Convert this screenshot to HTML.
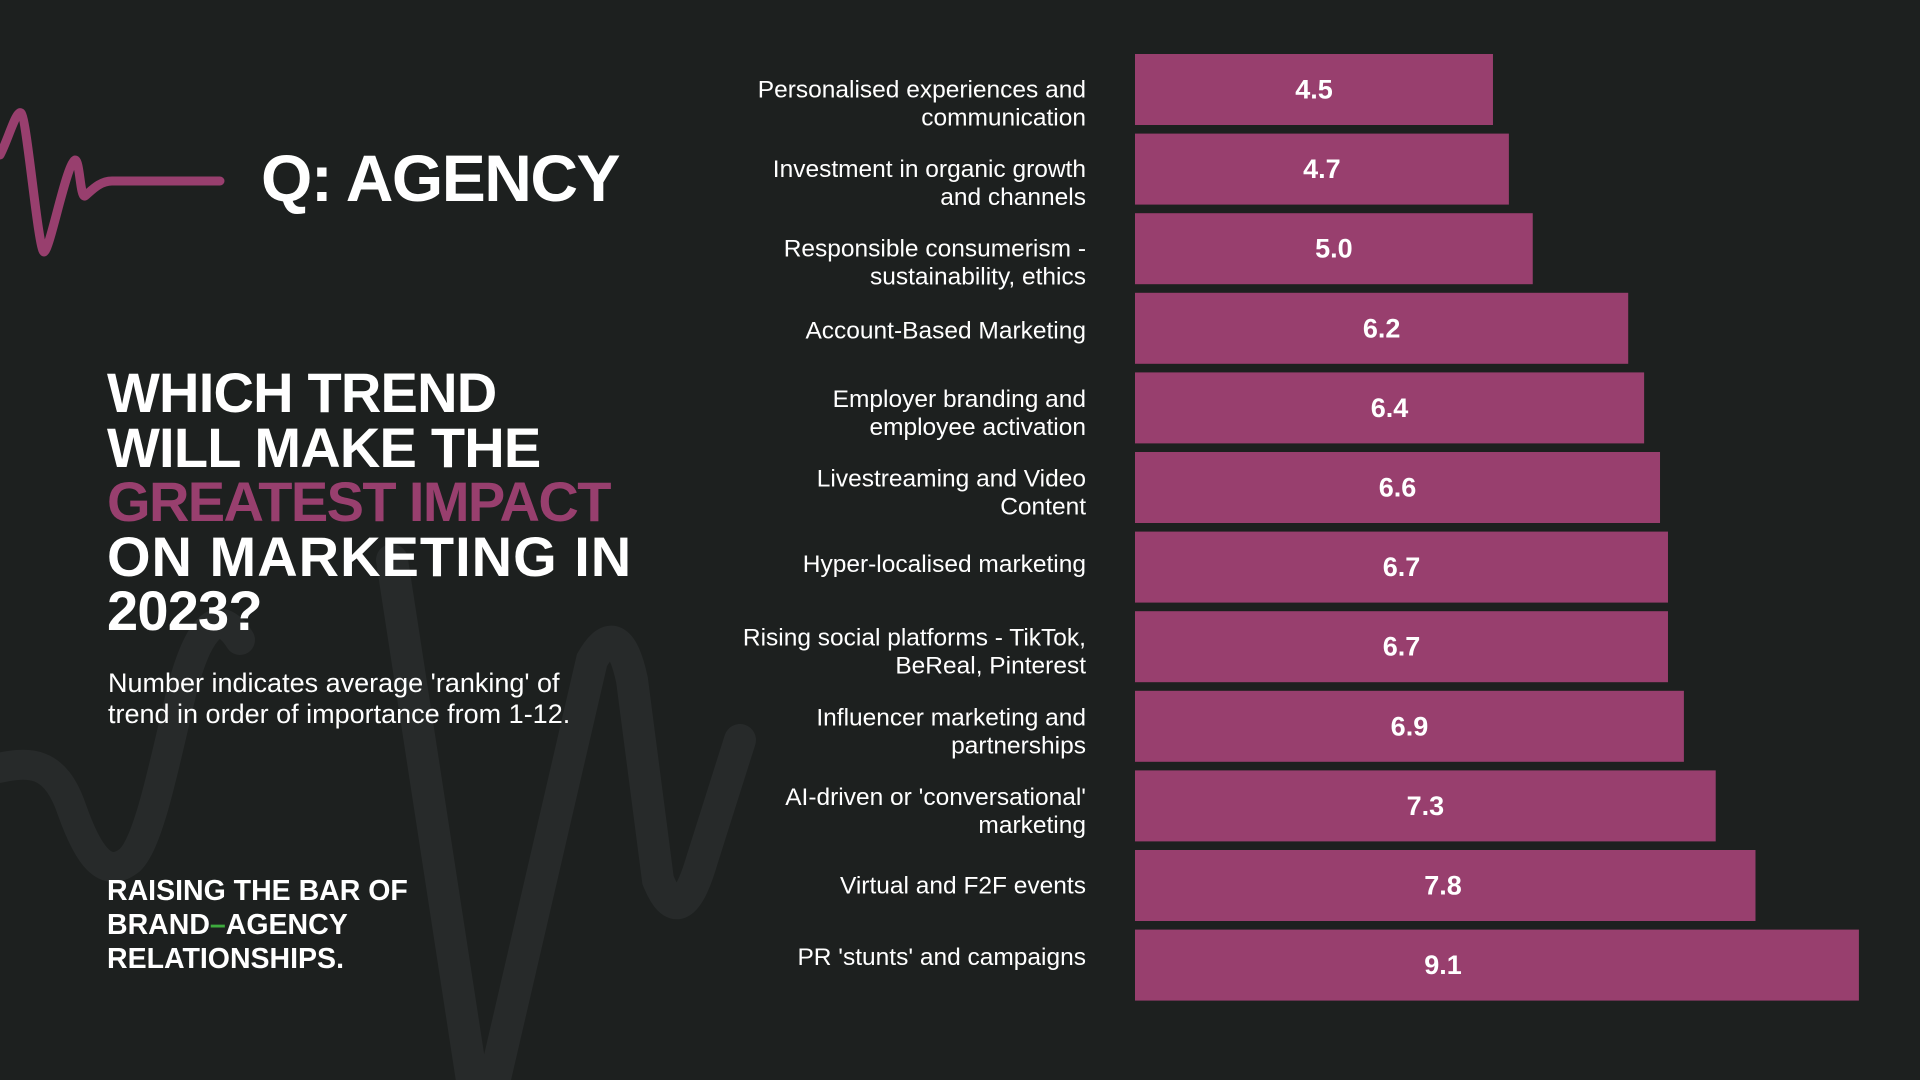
<!DOCTYPE html>
<html><head><meta charset="utf-8">
<style>
html,body{margin:0;padding:0;background:#1d201f;}
#root{position:relative;width:1920px;height:1080px;overflow:hidden;background:#1d201f;font-family:"Liberation Sans",sans-serif;color:#fff;}
.abs{position:absolute;}
#title{left:261px;top:138px;font-size:66px;font-weight:bold;letter-spacing:-1.5px;line-height:80px;white-space:nowrap;}
#heading{left:107px;top:366px;font-size:56px;font-weight:bold;line-height:54.5px;letter-spacing:-0.8px;white-space:nowrap;}
#heading .hl{color:#983f6e;letter-spacing:-1.6px;}
#heading .w{letter-spacing:1px;}
#sub{left:108px;top:668px;font-size:27px;line-height:31px;white-space:nowrap;}
#footer{left:107px;top:874px;font-size:28.5px;font-weight:bold;line-height:34px;letter-spacing:0;white-space:nowrap;}
#footer .dash{color:#3daa3d;}
</style></head>
<body>
<div id="root">
<svg class="abs" style="left:0;top:0" width="1920" height="1080">
  <path d="M-10,770 C30,760 55,760 72,810 C88,855 105,880 130,860 C150,840 165,760 182,690 C195,640 215,600 240,640" fill="none" stroke="#272a2a" stroke-width="30" stroke-linecap="round"/>
  <path d="M392,560 L475,1100 M490,1100 L592,660 Q618,615 632,680 L658,880 Q680,935 702,860 L740,740" fill="none" stroke="#272a2a" stroke-width="32" stroke-linecap="round"/>
  <path d="M0,155 C8,140 16,110 21,113 C27,118 38,250 44,252 C50,250 66,165 75,160 C80,160 80,198 85,196 C92,190 100,181 112,181 L220,181" fill="none" stroke="#983f6e" stroke-width="9" stroke-linecap="round" stroke-linejoin="round"/>
</svg>
<div id="title" class="abs">Q: AGENCY</div>
<div id="heading" class="abs">WHICH TREND<br>WILL MAKE THE<br><span class="hl">GREATEST IMPACT</span><br><span class="w">ON MARKETING IN</span><br>2023?</div>
<div id="sub" class="abs">Number indicates average 'ranking' of<br>trend in order of importance from 1-12.</div>
<div id="footer" class="abs">RAISING THE BAR OF<br>BRAND<span class="dash">–</span>AGENCY<br>RELATIONSHIPS.</div>
<svg id="chart" class="abs" style="left:0;top:0" width="1920" height="1080"></svg>
</div>
<script>
const categories = [
 "Personalised experiences and|communication",
 "Investment in organic growth|and channels",
 "Responsible consumerism -|sustainability, ethics",
 "Account-Based Marketing",
 "Employer branding and|employee activation",
 "Livestreaming and Video|Content",
 "Hyper-localised marketing",
 "Rising social platforms - TikTok,|BeReal, Pinterest",
 "Influencer marketing and|partnerships",
 "AI-driven or 'conversational'|marketing",
 "Virtual and F2F events",
 "PR 'stunts' and campaigns"
];
const values = [4.5, 4.7, 5.0, 6.2, 6.4, 6.6, 6.7, 6.7, 6.9, 7.3, 7.8, 9.1];
const valueLabels = ["4.5","4.7","5.0","6.2","6.4","6.6","6.7","6.7","6.9","7.3","7.8","9.1"];

const NS = "http://www.w3.org/2000/svg";
const svg = document.getElementById('chart');
const x0 = 1135, unit = 79.55, top0 = 54, pitch = 79.6, bh = 71;
const labelNudge = [14,14,14,2,5,5,-3,5,5,5,0,-8];
function xScale(v){ return v * unit; }
function yScale(i){ return top0 + i * pitch; }

values.forEach((v, i) => {
  const y = yScale(i), w = xScale(v);
  const r = document.createElementNS(NS, 'rect');
  
  
  r.setAttribute('x', x0); r.setAttribute('y', y);
  r.setAttribute('width', w); r.setAttribute('height', bh);
  r.setAttribute('fill', '#983f6e');
  svg.appendChild(r);

  const t = document.createElementNS(NS, 'text');
  
  
  t.setAttribute('x', Math.min(x0 + w / 2, 1443)); t.setAttribute('y', y + bh / 2 + 9);
  t.setAttribute('text-anchor', 'middle'); t.setAttribute('fill', '#fff');
  t.setAttribute('font-family', 'Liberation Sans, sans-serif');
  t.setAttribute('font-weight', 'bold'); t.setAttribute('font-size', '27');
  t.textContent = valueLabels[i];
  svg.appendChild(t);

  const lines = categories[i].split('|');
  const lbl = document.createElementNS(NS, 'text');
  
  
  lbl.setAttribute('text-anchor', 'end'); lbl.setAttribute('fill', '#fff');
  lbl.setAttribute('font-family', 'Liberation Sans, sans-serif');
  lbl.setAttribute('font-size', '24.5');
  const lh = 28;
  const startY = y + bh / 2 + 8 - (lines.length - 1) * lh / 2 + labelNudge[i];
  lines.forEach((ln, k) => {
    const ts = document.createElementNS(NS, 'tspan');
    ts.setAttribute('x', 1086);
    ts.setAttribute('y', startY + k * lh);
    ts.textContent = ln;
    lbl.appendChild(ts);
  });
  svg.appendChild(lbl);
});
</script>
</body></html>
